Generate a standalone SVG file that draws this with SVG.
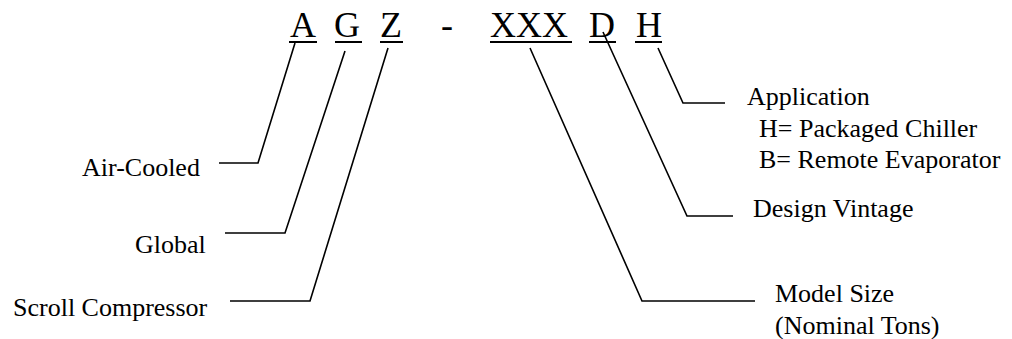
<svg xmlns="http://www.w3.org/2000/svg" width="1012" height="339" viewBox="0 0 1012 339">
<style>
.code{font-family:"Liberation Serif","Times New Roman",serif;font-size:36px;fill:#000}
.lbl{font-family:"Liberation Serif","Times New Roman",serif;font-size:26px;fill:#000}
.ul{stroke:#000;stroke-width:2;fill:none}
.ld{stroke:#000;stroke-width:1.6;fill:none;stroke-linejoin:miter}
</style>
<rect width="1012" height="339" fill="#fff"/>
<g id="code">
<text class="code" x="290" y="37">A</text>
<text class="code" x="334" y="37">G</text>
<text class="code" x="380" y="37">Z</text>
<text class="code" x="441" y="37">-</text>
<text class="code" x="490" y="37">XXX</text>
<text class="code" x="589" y="37">D</text>
<text class="code" x="636" y="37">H</text>
<line class="ul" x1="289" y1="42" x2="317" y2="42"/>
<line class="ul" x1="335" y1="42" x2="362" y2="42"/>
<line class="ul" x1="380" y1="42" x2="403" y2="42"/>
<line class="ul" x1="490" y1="42" x2="572" y2="42"/>
<line class="ul" x1="589" y1="42" x2="616" y2="42"/>
<line class="ul" x1="635" y1="42" x2="662" y2="42"/>
</g>
<g id="connectors">
<polyline class="ld" points="295,43 258,163 219,163"/>
<polyline class="ld" points="345,51 285,233 225,233"/>
<polyline class="ld" points="388,48 310,301 230,301"/>
<polyline class="ld" points="530,48 642,301 755,301"/>
<polyline class="ld" points="603,32 687,216 733,216"/>
<polyline class="ld" points="658,48 683,103 725,103"/>
</g>
<g id="air-cooled"><text class="lbl" x="82" y="176">Air-Cooled</text></g>
<g id="global"><text class="lbl" x="135" y="253">Global</text></g>
<g id="scroll"><text class="lbl" x="13" y="316">Scroll Compressor</text></g>
<g id="model-size"><text class="lbl" x="775" y="302">Model Size</text><text class="lbl" x="775" y="334">(Nominal Tons)</text></g>
<g id="design-vintage"><text class="lbl" x="753" y="217">Design Vintage</text></g>
<g id="application"><text class="lbl" x="747" y="105">Application</text><text class="lbl" x="759" y="137">H= Packaged Chiller</text><text class="lbl" x="759" y="168">B= Remote Evaporator</text></g>
</svg>
